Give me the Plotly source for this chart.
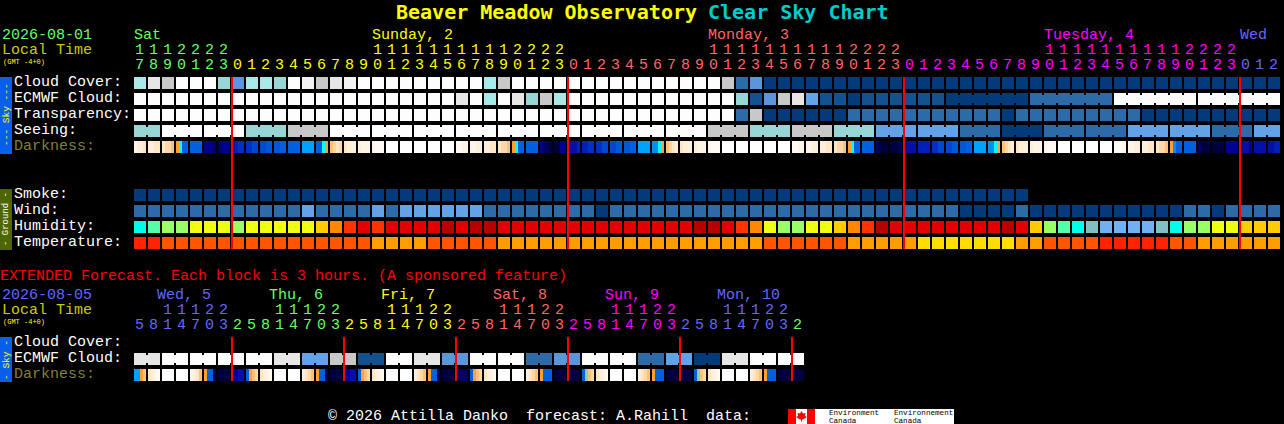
import plotly.graph_objects as go

# ---------- data: one code per hourly block ----------
PALETTE = {"W": "#fdfdfd", "V": "#f2f2f2", "L": "#e6e6e6", "G": "#c8c8c8", "C": "#a8e8e8",
           "T": "#98d6d6", "B": "#5a96d8", "S": "#62a2e6", "M": "#2c6aa8", "N": "#14528f",
           "D": "#023a7a"}
HUMID = {"c": "#00ffe8", "m": "#55ffaa", "g": "#99ff66", "y": "#eeff11", "o": "#ffcc00",
         "a": "#ff8800", "r": "#ff3300", "e": "#e40000", "d": "#b80000", "b": "#70b0f4",
         "t": "#80c0c0"}
TEMP = {"R": "#ff2200", "F": "#ff5500", "A": "#ff9d00", "Y": "#ffdd00"}
DARK = {"W": "#ffffff", "a": "#fffaf4", "b": "#fff4e8", "c": "#ffeed8", "d": "#ffe6c4",
        "e": "#ffd8a8", "f": "#ffc080", "g": "#ffa030", "y": "#00ffff", "h": "#0090f0",
        "i": "#0060e0", "j": "#0058d8", "k": "#0048d0", "l": "#0030c8", "m": "#0020b8",
        "n": "#0010a8", "o": "#000090", "p": "#000060", "q": "#000040", "r": "#00a0ff",
        "s": "#90d0a0"}

cloud = "CLGWWWTBCCTWVGLV" + "W" * 9 + "CG" + "W" * 15 + "G" + "MB" + "D" * 37
ecmwf = ("W" * 23 + "LWCWLTGC" + "W" * 12 + "TNBGLSNND" + "N" * 6 + "D" * 6 + "M" * 6 + "W" * 12)
transparency = "W" * 43 + "MG" + "D" * 6 + "M" * 11 + "D" + "M" * 9 + "D" * 10
seeing = ("TT" + "W" * 6 + "TTT" + "GGG" + "W" * 27 + "GGG" + "TTT" + "GGG" + "TTT" +
          "S" * 6 + "MMM" + "DDD" + "M" * 6 + "S" * 6 + "MMM" + "SS")
smoke = "D" * 64
wind = ("M" * 12 + "S" + "M" * 4 + "S" + "M" + "S" * 6 + "M" * 8 + "D" + "M" * 25 + "D" * 4 +
        "M" + "D" * 11 + "MM" + "D" + "M" * 4)
humidity = ("cmggyyyg" + "yyyyy" + "oarereeeededd" + "e" * 14 + "ddera" + "yggyyoa" + "rd" +
            "e" * 8 + "de" + "ogmct" + "bbbb" + "tc" + "ggyyooo")
temperature = ("RR" + "F" * 15 + "AAAA" + "F" * 5 + "A" * 19 + "F" * 6 + "A" * 5 + "Y" * 7 +
               "AA" + "FFFF" + "R" * 5 + "FF" + "A" * 6)
darkness = ["bccd", "ccdd", "deef", "gyii", "iiii", "ooop", "pooo", "mmll", "llkk", "kkjj",
            "jjii", "iiii", "rrrr", "iiyg", "fede", "dccc", "cbbb", "baaa",
            "WWWW", "WWWW", "WWWW", "WWWW", "WWWW",
            "aabb", "bbcc", "ccdd", "deef", "gyii", "iiii", "oppq", "qqoo", "nnnm", "mmll",
            "llkk", "kkjj", "jjii", "rrrr", "hhyg", "fedc", "dccc", "cbbb", "baaa",
            "WWWW", "WWWW", "WWWW", "WWWW", "WWWW",
            "aabb", "bbcc", "ccdd", "deef", "gyii", "iiii", "pqqq", "qqqp", "onnn", "mmmm",
            "llkk", "kkjj", "jjii", "rrrr", "hhyg", "fedc", "dccc", "cbbb", "baaa",
            "WWWW", "WWWW", "WWWW", "WWWW",
            "aaab", "bbcc", "ccdd", "deef", "ghii", "iiii", "pqqq", "qqqq", "oooo", "onno",
            "nnnn", "nnmm"]
seeing_groups = [2] + [3] * 26 + [2]
ecmwf_groups = [1] * 58 + [6] * 4

ext_ecmwf = "".join(c * 2 for c in "LWWWWLSGNWLBWWMBWWMSDLWW")
ext_darkness = ["rrgf", "dcba", "WWWW", "WWWW", "bcdf", "giip", "qqqq", "oonn", "igfe", "dcba",
                "WWWW", "WWWW", "cdef", "giip", "qqqq", "oonn", "igfe", "dcba", "WWWW", "WWWW",
                "cdef", "giip", "qqqq", "pppp", "igfe", "dcba", "WWWW", "WWWW", "cdef", "giii",
                "qqqq", "qqqq", "isfe", "dcba", "WWWW", "WWWW", "cdef", "giii", "qqqq", "qqqq",
                "isfe", "dcba", "WWWW", "WWWW", "cdef", "giii", "qqqq", "qqqq"]
ext_groups = [2] * 24

GREEN, YEL, PINK, MAG, BLUE = "#66ff66", "#ffff00", "#ff6666", "#ff00ff", "#6666ff"

units = "7890123" + "012345678901234567890123" * 3 + "012"
tens = "1112222" + "          11111111112222" * 3 + "   "
hour_colors = [GREEN] * 7 + [YEL] * 24 + [PINK] * 24 + [MAG] * 24 + [BLUE] * 3
day_labels = [("Sat", 0, GREEN), ("Sunday, 2", 17, YEL), ("Monday, 3", 41, PINK),
              ("Tuesday, 4", 65, MAG), ("Wed", 79, BLUE)]
midnights = [7, 31, 55, 79]

ext_units = "5814703" + "25814703" * 5 + "2"
ext_tens = "  11122" + "   11122" * 5 + " "
ext_colors = [BLUE] * 7 + [GREEN] * 8 + [YEL] * 8 + [PINK] * 8 + [MAG] * 8 + [BLUE] * 8 + [GREEN]
ext_days = [("Wed, 5", 157, BLUE), ("Thu, 6", 269, GREEN), ("Fri, 7", 381, YEL),
            ("Sat, 8", 493, PINK), ("Sun, 9", 605, MAG), ("Mon, 10", 717, BLUE)]
ext_midnights = [7, 15, 23, 31, 39, 47]

for s, n in ((cloud, 82), (ecmwf, 82), (transparency, 82), (seeing, 82), (wind, 82),
             (humidity, 82), (temperature, 82), (darkness, 82), (units, 82), (tens, 82),
             (hour_colors, 82), (ext_ecmwf, 48), (ext_darkness, 48), (ext_units, 48),
             (ext_tens, 48), (ext_colors, 48)):
    assert len(s) == n, (s, len(s))

# ---------- layout constants ----------
X0, PITCH, BLOCK = 134, 14, 12
MONO = "Liberation Mono"
fig = go.Figure()


def left(c):
    return X0 + PITCH * c


def row(top, codes, pal):
    fig.add_bar(x=[left(c) + BLOCK / 2 for c in range(len(codes))],
                y=[BLOCK] * len(codes), base=[top] * len(codes), width=BLOCK,
                marker=dict(color=[pal[k] for k in codes], line_width=0), hoverinfo="skip")


def necks(top, codes, groups, pal):
    xs, cols, c = [], [], 0
    for g in groups:
        for i in range(c, c + g - 1):
            xs.append(left(i) + BLOCK + 1)
            cols.append(pal[codes[i]])
        c += g
    fig.add_bar(x=xs, y=[8] * len(xs), base=[top + 2] * len(xs), width=2,
                marker=dict(color=cols, line_width=0), hoverinfo="skip")


def dark_row(top, cells):
    xs, cols = [], []
    for c, cell in enumerate(cells):
        for k, code in enumerate(cell):
            xs.append(left(c) + 1.5 + 3 * k)
            cols.append(DARK[code])
    fig.add_bar(x=xs, y=[BLOCK] * len(xs), base=[top] * len(xs), width=3,
                marker=dict(color=cols, line_width=0), hoverinfo="skip")


def digits(y, chars, colors):
    idx = [i for i, ch in enumerate(chars) if ch != " "]
    fig.add_scatter(x=[left(i) + 5.5 for i in idx], y=[y] * len(idx),
                    text=[chars[i] for i in idx], mode="text", textposition="middle center",
                    textfont=dict(family=MONO, size=15, color=[colors[i] for i in idx]),
                    hoverinfo="skip", cliponaxis=False)


row(77, cloud, PALETTE)
row(93, ecmwf, PALETTE)
necks(93, ecmwf, ecmwf_groups, PALETTE)
row(109, transparency, PALETTE)
row(125, seeing, PALETTE)
necks(125, seeing, seeing_groups, PALETTE)
dark_row(141, darkness)
row(189, smoke, PALETTE)
row(205, wind, PALETTE)
row(221, humidity, HUMID)
row(237, temperature, TEMP)
row(353, ext_ecmwf, PALETTE)
necks(353, ext_ecmwf, ext_groups, PALETTE)
dark_row(369, ext_darkness)

digits(50, tens, hour_colors)
digits(65, units, hour_colors)
digits(310, ext_tens, ext_colors)
digits(325, ext_units, ext_colors)

shapes = []
for m in midnights:
    shapes.append(dict(type="rect", x0=left(m) - 1, x1=left(m) + 1, y0=77, y1=249,
                       fillcolor="#ff0000", line_width=0, layer="above"))
for m in ext_midnights:
    shapes.append(dict(type="rect", x0=left(m) - 1, x1=left(m) + 1, y0=337, y1=381,
                       fillcolor="#ff0000", line_width=0, layer="above"))
for y0, y1, col in ((77, 154, "#0a5fe8"), (189, 250, "#4f6600"), (337, 382, "#0a5fe8")):
    shapes.append(dict(type="rect", x0=0, x1=12, y0=y0, y1=y1, fillcolor=col, line_width=0,
                       layer="below"))
# Environment Canada signature
shapes.append(dict(type="rect", x0=788, x1=954, y0=409, y1=424, fillcolor="#ffffff",
                   line_width=0, layer="below"))
for a, b in ((788, 796), (807, 815)):
    shapes.append(dict(type="rect", x0=a, x1=b, y0=409, y1=424, fillcolor="#ff0000",
                       line_width=0, layer="above"))
shapes.append(dict(type="path",
                   path="M801.5 411 L803 413.5 L805.5 413 L805 416 L807 417 L803 419.5 L802 419.5 "
                        "L802 421.5 L801 421.5 L801 419.5 L800 419.5 L796 417 L798 416 L797.5 413 "
                        "L800 413.5 Z",
                   fillcolor="#ff0000", line_width=0, layer="above"))

ann = []


def label(text, x, y, color, size=15, family=MONO, angle=0, anchor="left", bold=False):
    ann.append(dict(text=("<b>%s</b>" % text) if bold else text, x=x, y=y, xref="x", yref="y",
                    xanchor=anchor, yanchor="middle", showarrow=False, textangle=angle,
                    font=dict(family=family, size=size, color=color), borderpad=0, borderwidth=0))


label("Beaver Meadow Observatory", 396, 12, "#ffff00", 20, "DejaVu Sans Mono", bold=True)
label("Clear Sky Chart", 708, 12, "#00cccc", 20, "DejaVu Sans Mono", bold=True)
label("2026-08-01", 2, 35, GREEN)
label("Local Time", 2, 50, "#cccc00")
label("(GMT -4+0)", 3, 62, "#ffff00", 7)
for text, c, col in day_labels:
    label(text, left(c) + 0.4, 35, col)
for text, y in (("Cloud Cover:", 82), ("ECMWF Cloud:", 98), ("Transparency:", 114), ("Seeing:", 130),
                ("Smoke:", 194), ("Wind:", 210), ("Humidity:", 226), ("Temperature:", 242),
                ("Cloud Cover:", 342), ("ECMWF Cloud:", 358)):
    label(text, 14, y, "#ffffff")
label("Darkness:", 14, 146, "#808033")
label("Darkness:", 14, 374, "#808033")
label("--- Sky ---", 6, 115, "#ffff00", 9.5, angle=-90, anchor="center")
label("- Ground -", 6, 219, "#ffffff", 9, angle=-90, anchor="center")
label("- Sky -", 6, 360, "#ffff00", 9.5, angle=-90, anchor="center")
label("EXTENDED Forecast. Each block is 3 hours. (A sponsored feature)", 0, 276, "#ff0000")
label("2026-08-05", 2, 295, BLUE)
label("Local Time", 2, 310, "#cccc00")
label("(GMT -4+0)", 3, 322, "#ffff00", 7)
for text, x, col in ext_days:
    label(text, x, 295, col)
label("© 2026 Attilla Danko  forecast: A.Rahill  data:", 328, 416, "#ffffff")
label("Environment", 829, 413, "#000000", 7.6)
label("Canada", 829, 420.5, "#000000", 7.6)
label("Environnement", 894, 413, "#000000", 7.6)
label("Canada", 894, 420.5, "#000000", 7.6)

fig.update_layout(width=1284, height=424, margin=dict(l=0, r=0, t=0, b=0),
                  paper_bgcolor="#000000", plot_bgcolor="#000000", showlegend=False,
                  barmode="overlay", hovermode=False, shapes=shapes, annotations=ann,
                  xaxis=dict(range=[0, 1284], visible=False, fixedrange=True),
                  yaxis=dict(range=[424, 0], visible=False, fixedrange=True))

fig.write_html("out.html", config={"displayModeBar": False},
               post_script="document.body.style.margin='0';document.body.style.overflow='hidden';")
